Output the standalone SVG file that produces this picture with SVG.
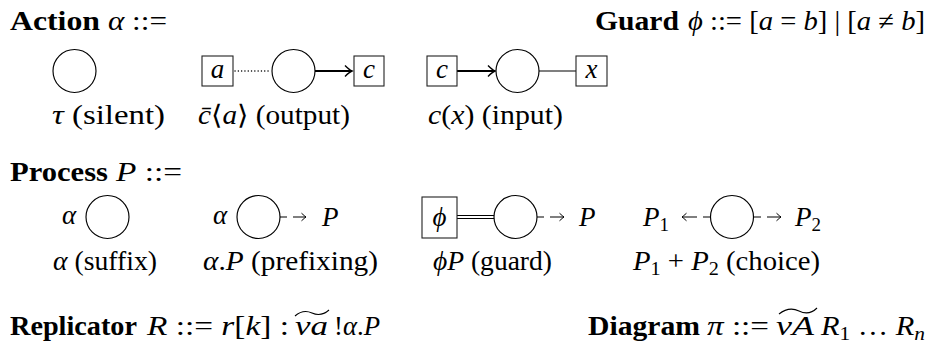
<svg xmlns="http://www.w3.org/2000/svg" width="935" height="347" viewBox="0 0 935 347">
<defs>
<style>
.t{font-family:"Liberation Serif","DejaVu Serif",serif;font-size:27px;fill:#000}
.b{font-weight:bold}
.i{font-style:italic}
.u{font-style:normal}
.node{fill:#fff;stroke:#000;stroke-width:1.15}
.box{fill:#fff;stroke:#222;stroke-width:1.1}
.solid{stroke:#000;stroke-width:1.1;fill:none}
.thick{stroke:#000;stroke-width:1.9;fill:none}
.dot{stroke:#000;stroke-width:1.4;fill:none;stroke-dasharray:0.1 3.2;stroke-linecap:round}
</style>
<marker id="ah" markerUnits="userSpaceOnUse" viewBox="-10 -6 12 12" refX="0" refY="0" markerWidth="12" markerHeight="12" orient="auto">
<path d="M-7,-5.5 Q-2.5,-1 0,0 Q-2.5,1 -7,5.5" fill="none" stroke="#000" stroke-width="1.4"/>
</marker>
<marker id="sh" markerUnits="userSpaceOnUse" viewBox="-8 -5 10 10" refX="0" refY="0" markerWidth="10" markerHeight="10" orient="auto">
<path d="M-4.5,-3.8 Q-1.2,-0.8 0,0 Q-1.2,0.8 -4.5,3.8" fill="none" stroke="#000" stroke-width="1"/>
</marker>
</defs>

<g id="headings">
<text class="t b" x="10" y="30" textLength="90" lengthAdjust="spacingAndGlyphs">Action</text>
<text class="t" x="108" y="30" textLength="59" lengthAdjust="spacingAndGlyphs"><tspan class="i">α</tspan> ::=</text>
<text class="t b" x="595" y="30" textLength="84" lengthAdjust="spacingAndGlyphs">Guard</text>
<text class="t" x="688" y="30" textLength="237" lengthAdjust="spacingAndGlyphs"><tspan class="i">ϕ</tspan> ::= [<tspan class="i">a</tspan> = <tspan class="i">b</tspan>] | [<tspan class="i">a</tspan> ≠ <tspan class="i">b</tspan>]</text>
<text class="t b" x="10" y="181" textLength="98" lengthAdjust="spacingAndGlyphs">Process</text>
<text class="t" x="116" y="181" textLength="66" lengthAdjust="spacingAndGlyphs"><tspan class="i">P</tspan> ::=</text>
<text class="t b" x="10" y="335" textLength="127" lengthAdjust="spacingAndGlyphs">Replicator</text>
<text class="t" x="147" y="335" textLength="142" lengthAdjust="spacingAndGlyphs"><tspan class="i">R</tspan> ::= <tspan class="i">r</tspan>[<tspan class="i">k</tspan>] :</text>
<text class="t i" x="295" y="335" textLength="33" lengthAdjust="spacingAndGlyphs">νa</text>
<path class="solid" d="M295,316 Q303,309 312,313 T329,310"/>
<text class="t" x="334" y="335" textLength="46" lengthAdjust="spacingAndGlyphs">!<tspan class="i">α</tspan>.<tspan class="i">P</tspan></text>
<text class="t b" x="588" y="335" textLength="112" lengthAdjust="spacingAndGlyphs">Diagram</text>
<text class="t" x="707" y="335" textLength="62" lengthAdjust="spacingAndGlyphs"><tspan class="i">π</tspan> ::=</text>
<text class="t i" x="776" y="335" textLength="38" lengthAdjust="spacingAndGlyphs">νA</text>
<path class="solid" d="M779,314 Q789,306 799,311 T817,308"/>
<text class="t" x="821" y="335" textLength="104" lengthAdjust="spacingAndGlyphs"><tspan class="i">R</tspan><tspan font-size="19" dy="5">1</tspan><tspan dy="-5"> … </tspan><tspan class="i">R</tspan><tspan font-size="19" dy="5" class="i">n</tspan></text>
</g>

<g id="connectors">
<line class="dot" x1="235" y1="71" x2="271" y2="71"/>
<line class="thick" x1="315" y1="71" x2="352" y2="71" marker-end="url(#ah)"/>
<line class="thick" x1="457" y1="71" x2="495" y2="71" marker-end="url(#ah)"/>
<line class="solid" x1="539" y1="71" x2="576" y2="71"/>
<path class="solid" d="M280,217 h7 M293,217 h13" marker-end="url(#sh)"/>
<line class="solid" x1="457" y1="215.5" x2="494" y2="215.5"/>
<line class="solid" x1="457" y1="218.5" x2="494" y2="218.5"/>
<path class="solid" d="M537,217 h7 M550,217 h14" marker-end="url(#sh)"/>
<path class="solid" d="M710,217 h-7 M697,217 h-15" marker-end="url(#sh)"/>
<path class="solid" d="M754,217 h7 M767,217 h14" marker-end="url(#sh)"/>
</g>

<g id="silent">
<circle class="node" cx="74.5" cy="71" r="21.5"/>
<text class="t" x="52" y="124" textLength="113" lengthAdjust="spacingAndGlyphs"><tspan class="i">τ</tspan> (silent)</text>
</g>
<g id="output">
<rect class="box" x="202" y="56" width="31" height="30"/>
<text class="t i" x="217.5" y="78" text-anchor="middle">a</text>
<circle class="node" cx="293.5" cy="71" r="21.5"/>
<rect class="box" x="354" y="56" width="30" height="30"/>
<text class="t i" x="369" y="78" text-anchor="middle">c</text>
<text class="t" x="198" y="124" textLength="152" lengthAdjust="spacingAndGlyphs"><tspan class="i">c̄</tspan>⟨<tspan class="i">a</tspan>⟩ (output)</text>
</g>
<g id="input">
<rect class="box" x="427" y="56" width="30" height="30"/>
<text class="t i" x="442" y="78" text-anchor="middle">c</text>
<circle class="node" cx="517.5" cy="71" r="21.5"/>
<rect class="box" x="576" y="56" width="31" height="30"/>
<text class="t i" x="591.5" y="78" text-anchor="middle">x</text>
<text class="t" x="428" y="124" textLength="135" lengthAdjust="spacingAndGlyphs"><tspan class="i">c</tspan>(<tspan class="i">x</tspan>) (input)</text>
</g>

<g id="suffix">
<text class="t i" x="62" y="224">α</text>
<circle class="node" cx="107.5" cy="217" r="21.5"/>
<text class="t" x="53" y="270" textLength="104" lengthAdjust="spacingAndGlyphs"><tspan class="i">α</tspan> (suffix)</text>
</g>
<g id="prefixing">
<text class="t i" x="213" y="224">α</text>
<circle class="node" cx="258.5" cy="217" r="21.5"/>
<text class="t i" x="322" y="226">P</text>
<text class="t" x="203" y="270" textLength="175" lengthAdjust="spacingAndGlyphs"><tspan class="i">α</tspan>.<tspan class="i">P</tspan> (prefixing)</text>
</g>
<g id="guard">
<rect class="box" x="422" y="197" width="35" height="41"/>
<text class="t i" x="439.5" y="226" text-anchor="middle">ϕ</text>
<circle class="node" cx="515.5" cy="217" r="21.5"/>
<text class="t i" x="579" y="226">P</text>
<text class="t" x="433" y="270" textLength="119" lengthAdjust="spacingAndGlyphs"><tspan class="i">ϕP</tspan> (guard)</text>
</g>
<g id="choice">
<text class="t i" x="643" y="226">P<tspan class="u" font-size="19" dy="5">1</tspan></text>
<circle class="node" cx="732" cy="217" r="21.5"/>
<text class="t i" x="795" y="226">P<tspan class="u" font-size="19" dy="5">2</tspan></text>
<text class="t" x="633" y="270" textLength="187" lengthAdjust="spacingAndGlyphs"><tspan class="i">P</tspan><tspan font-size="19" dy="5">1</tspan><tspan dy="-5"> + </tspan><tspan class="i">P</tspan><tspan font-size="19" dy="5">2</tspan><tspan dy="-5"> (choice)</tspan></text>
</g>
</svg>
